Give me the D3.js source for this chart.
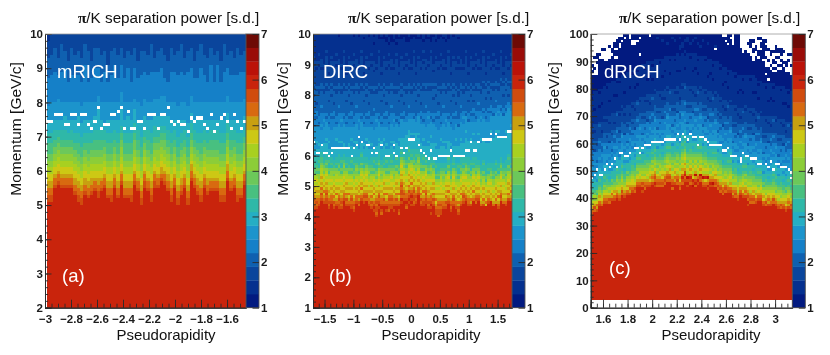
<!DOCTYPE html>
<html><head><meta charset="utf-8">
<script src="https://cdn.jsdelivr.net/npm/d3@7"></script>
<style>
html,body{margin:0;padding:0;background:#fff}
svg{display:block;filter:blur(0.45px)}
text{font-family:"Liberation Sans",Arial,sans-serif}
</style></head><body><div id="chart"></div>
<script>
// Colour bands of the bar, bottom (1.0-1.3) to top (6.7-7.0); a letter in the tables below names a band.
const bandLetters = "ABCDEFGHIJKLMNOPQRST";
const bandColours = ["#021a80","#05308f","#0a459c","#0f60b0","#1580c8","#1c94cc","#25aec4","#2fb8a8","#48c080","#6cc85a","#8ccd38","#a8d020","#cdc814","#c8a010","#d86a10","#d04c0e","#c9240c","#bb1208","#9a0c08","#6e0a05"];
const colourTicks = [1,2,3,4,5,6,7];

// Each string is one pseudorapidity bin, read from the top momentum bin down; letter + run length. Rows past the end are band Q.
const mrichColumns = [
"B2C5D6E8F5G3H3I3J2K2L2M2N2O2P2","C6D6E8F5G4H3I3J2K2L2M2N2O2P2","C4D7E9F5G3H3I2J2K2L2M2N1O2P1","C7D5E7F6G3H2I2J2K2L2M2N1O2P1","C3D8E9F5G3H3I2J2K2L2M2N1O2P1",
"C5D5E10F4G4H3I2J2K2L2M2N1O2P1","C8D6E6F5G4H2I2J2K2L2M2N1O2P1","C4D8E8F5G3H3I2J2K2L2M2N1O2P1","C6D6E8F5G4H3I2J2K2L2M2N2O2P1","C5D7E8F4G5H3I3J2K2L2M2N2O2P2",
"C7D7E7F5G4H3I3J2K2L2M2N2O2P2","C3D6E11F5G4H3I2J2K2L2M2N2O2P1","C5D9E6F5G4H3I3J2K2L2M2N2O2P1","C8D5E7F5G4H3I2J2K2L2M2N2O2P1","C4D6E10F4G4H3I3J2K2L2M2N1O2P1",
"C4D6E8F4G6H3I3J2K2L2M2N2O2P2","C6D8E6F5G3H3I3J2K2L2M2N1O2P1","C5D6E9F6G2H3I2J2K2L2M2N1O2P1","C9D5E6F5G4H3I3J2K2L2M2N2O2P1","C5D7E8F5G4H3I3J2K2L2M2N2O2P2",
"C4D5E11F5G3H3I2J2K2L2M2N1O2P1","C6D7E7F5G4H3I3J2K2L2M2N2O2P1","C4D5E8F5G5H2I2J2K3L2M2N1O2P1","C7D6E7F5G4H3I3J2K2L2M2N2O2P1","C5D5E10F4G5H3I3J2K2L2M2N2O2P1",
"C6D8E6F5G4H3I3J2K2L2M2N2O2P2","C4D6E9F3G4H3I2J3K2L2M2N1O2P1","C8D5E7F5G3H3I3J2K2L2M2N1O2P1","C5D7E9F5G4H3I3J2K2L2M2N2O2P2","C5D6E8F5G3H3I2J2K2L2M2N1O2P2",
"C6D6E8F5G3H3I3J2K2L2M2N1O2P1","C3D8E9F5G4H3I3J2K2L2M2N2O2P2","C7D4E8F5G3H3I2J2K2L2M2N1O2P2","C5D6E8F5G3H3I2J2K3L2M2N1O2P1","C4D6E8F5G4H2I2J2K2L2M2N2O1P1",
"C6D7E5F5G4H2I2J3K2L2M2N1O2P1","C8D6E6F4G4H3I2J2K2L2M2N2O2P1","C4D7E9F5G4H3I3J2K2L2M2N2O2P2","C6D5E9F5G3H3I2J2K2L2M2N1O2P1","C5D7E9F5G4H3I3J2K2L2M2N2O2P2",
"C3D8E9F5G4H3I2J2K2L2M2N2O2P1","C7D5E8F5G3H3I2J2K2L2M2N1O2P1","C5D6E10F5G4H3I3J2K2L2M2N2O2P2","C4D6E8F5G3H3I2J2K2L2M1N2O2P1","C8D5E7F5G3H3I2J2K2L2M2N1O2P1",
"C5D8E7F5G4H3I2J2K2L2M2N2O2P1","C3D7E10F5G4H3I3J2K2L2M2N2O2P2","C6D6E8F5G3H3I2J2K2L2M2N1O2P1","C7D7E6F5G4H3I2J2K2L2M2N2O2P1","C4D5E11F5G3H3I3J2K2L2M2N1O2P1",
"C6D8E6F5G3H3I3J2K2L2M2N1O2P1","C5D4E11F5G3H3I3J2K2L2M2N1O2P1","C8D6E6F5G4H3I3J2K2L2M2N2O2P2","C3D8E9F5G4H3I3J2K2L2M2N2O2P2","C6D4E8F5G3H3I2J2K2L2M1N2O2P1",
"C5D7E8F5G3H3I3J2K2L2M2N1O2P1","C7D5E8F5G3H3I2J2K2L2M2N1O2P1","C4D8E8F5G4H3I3J2K2L2M2N2O2P2","C6D5E9F5G4H3I3J2K2L2M2N2O2P1","C5D6E8F5G4H2I2J2K2L2M2N1O2P1"];
const dircColumns = [
"B8CBC8DCD2CD6EDE3F6GFG3H2IHIJKLMLMNMNOPOP2","B10C2BC6DCD4CD2E2DE3F5GF2G3H3IJIKLMLM2NMNOPOP","B7CB2CBC7DC2D8E2DEF6GFG3HIH2JIKKLMLMNMNOOPQ","B9C3BC5D2CD5ED2E4FEF5G3H2I2JKLLMNMNMONPOP","B11CBC5CDC2D7E2FE2F6G4GH2IJKJLMLMNMOMNOPQ",
"B6CBC10DC2D8EDEF6GFG3H3IJIKLMLMNMNOPOP2","B12C2BC4DCD3CD5E2DEF5GF2G3HIH2JIKLMLM2NMNOPOP","B8CBC8DCD2CD6EDE3EF7G3H2IHJKKLMLMNMNOOPQ","B10C2BC6DCD4CD2E2DE3F7G4GH2IJKJLLMNMNMONPOP","B7CB2CBC7DC2D8E2DEF4GF2G4H2IHJKLLMLMNMOMNOPQ",
"AB8C3BC5D2CD5ED2E4F6GFG3H3IJIKKLMLMNMNOPOP2","B11CBC5CDC2D7E2FE2F5GF2G3HIH2JIKLMLM2NMNOPOP","B6CBC10DC2D8EDEEF7G3GH2IJKJKLMLMNMNOOPQ","B12C2BC4DCD3CD5E2DEF7G4H2IHJKLLMNMNMONPOP","B8CBC8DCD2CD6EDE3F6GFG3H3IJIKLMLMNMOMNOPQ",
"B10C2BC6DCD4CD2E2DE3F4GF2G4HIH2JIKLMLMNMNOPOP2","AB6CB2CBC7DC2D8E2DEF5GF2G3H2IHIJKJLMLM2NMNOPOP","B9C3BC5D2CD5ED2E4F6GFG3GH2IJKJKLMLMNMNOOP","AB10CBC5CDC2D7E2FE2EF7G3H3IJIKLLMNMNMONPO","B6CBC10DC2D8EDEF7G4HIH2JIKLMLMNMOMNOP",
"BAB10C2BC4DCD3CD5E2DEF6GFG3H2IHJKLMLMNMNOPOP","B8CBC8DCD2CD6EDE3F4GF2G4H2IJKLMLM2NMNOPO","AB9C2BC6DCD4CD2E2DE3F5GF2G3GH2IJKJKLMLMNMNOOP","B7CB2CBC7DC2D8E2DEF6GFG3H3IJIKLLMNMNMONPOP","AB2AB6C3BC5D2CD5ED2E4EF7G3HIH2JIKLMLMNMOMNOPQP",
"B11CBC5CDC2D7E2FE2F7G4H2IHIJKJLMLMNMNOPOP2OP","A2B4CBC10DC2D8EDEF6GFG3H3IJIKLMLM2NMNOPOPQP","BAB10C2BC4DCD3CD5E2DEF5GF2G3GH2IJKJKLMLMNMNOOPQPO","A2B6CBC8DCD2CD6EDE3F4GF2G4H2IHJKLLMNMNMONPOPQ","BA2B7C2BC6DCD4CD2E2DE3F6GFG3HIH2JIKLMLMNMOMNOPQP",
"AB2AB3CB2CBC7DC2D8E2DEEF7G3H3IJIKLMLMNMNOPOP2O","A3B6C3BC5D2CD5ED2E4F6GFG3H2IHIJKLMLM2NMNOPOP2","B2AB8CBC5CDC2D7E2FE2F5GF2G3GH2IJKJKLMLMNMNOOPQP","A2BAB3CBC10DC2D8EDEF7G4HIH2JIKLLMNMNMONPOPQ","BAB10C2BC4DCD3CD5E2DEF4GF2G4H3IJIKLMLMNMOMNOPQPO",
"A2B6CBC8DCD2CD6EDF7G3H2IHJKLMLMNMNOPOP2OQP","AB9C2BC6DCD4CD2E2DEF6G4GH2IJKJLMLM2NMNOPOPQ","A3B4CB2CBC7DC2D8E2F5G6H3IJIKKLMLMNMNOOPQPO","BA2B6C3BC5D2CD5ED2E2F4G6HIH2JIKLLMNMNMONPOPQP","A2B9CBC5CDC2D7E2F5GFG4H2IHJKLMLMNMOMNOPQPQP",
"AB5CBC10DC2D8EDF5GFG4H3IJIKLMLMNMNOPOP2OP","A2B10C2BC4DCD3CD5E2F4G6H2IHIJKJLMLM2NMNOPOP","BAB6CBC8DCD2CD6EF6GFG3GH2IJKJKLMLMNMNOOPQ","A2B8C2BC6DCD4CD2E2DE2F7G4H3IJIKLLMNMNMONPOPQ","B2AB3CB2CBC7DC2D8E2DEF5GF2G3HIH2JIKLMLMNMOMNOP2Q",
"A2B7C3BC5D2CD5ED2E4EF7G3H2IHJKLMLMNMNOPOP2","BAB8CBC5CDC2D7E2FE2F6GFG4H3IJIKLMLM2NMNOPOPQ","A3B3CBC10DC2D8EDEF5GF2G4GH2IJKJKLMLMNMNOOPQPQP","AB10C2BC4DCD3CD5E2DEF7G5H2IHJKLLMNMNMONPOPQ","B2AB5CBC8DCD2CD6EDE3F6GFG5HIH2JIKLMLMNMOMNOP2",
"A2B8C2BC6DCD4CD2E2DE3EF7G5H3IJIKLMLMNMNOPOP2OQ","AB6CB2CBC7DC2D8E2DEF4GF2G6H2IJKLLMLM2NMNOPOP2","BAB7C3BC5D2CD5ED2E4F6GFG5GH2IJKJKLMLMNMNOOPQ","B2AB8CBC5CDC2D7E2FE2F5GF2G5H2IHKLLMNMNMONPOPQ","A2B4CBC10DC2D8EDEF7G5HIH2JIKLMLMNMOMNOPQ",
"B12C2BC4DCD3CD5E2DEF6GFG5H3IJIKLMLMNMNOPOP","AB7CBC8DCD2CD6EDE3EF6G4H2IHJKLMLM2NMNOPOPQ","B10C2BC6DCD4CD2E2DE2F5GF2G5GH2IJKJKLMLMNMNOOP","BAB6CB2CBC7DC2D8E2DF7G6HIH2JIKLLMNMNMONPOP","B9C3BC5D2CD5ED2E3F6GFG5H3IJIKLMLMNMOMNOP",
"B11CBC5CDC2D6E2FEEF7G5H2IHJKLMLMNMNOPOP","B6CBC10DC2D7EDF5GF2G6GH2IJKJLMLM2NMNOP","B12C2BC4DCD3CD4E2DF7G6H3IJIKKLMLMNMNOOP","B8CBC8DCD2CD5EDE2F6GFG6HIH2JIKLLMNMNMONP","B10C2BC6DCD3CD2E2DE2F4GF2G6H2IHJKLMLMNMOMNO",
"B7CB2CBC6DC2D7E2DEF7G6H3IJIKLMLMNMNOPO","B9C3BC5D2CD4ED2E3F5GF2G7H2IJKLMLM2NMNOP","B11CBC5CDC2D6E2FEF6GFG7GH2IJKJKLMLMNMNO","B6CBC9DC2D7EDE2F7G8HIH2JIKLLMNMNMONP","B12C2BC3DCD3CD4E2DEF6GFG8H3IJIKLMLMNMOM",
"B8CBC7DCD2CD5EDE2EF8G7H2IHJKLMLMNMNOP","B10C2BC5DCD3CD2E2DEF5GF2G8GH2IJKJLMLM2NMN","B7CB2CBC6DC2D6E2DF8G9H3IJIKKLMLMNMNO","B9C3BC4D2CD4ED2E2F6GFG9HIH2JIKLLMNMNMON","B11CBC4CDC2D5E2FEF5GF2G9H2IHJKLMLMNMOMNOP",
"B6CBC8DC2D7EDEF8G8H2IJIKLMLMNMNOPO","B12C2BC2DCD3CD4E2DF7G9GH2IJKJLMLM2NMNO","B8CBC6DCD2CD5EDEF6GFG9H3IJIKKLMLMNMNOP","B10C2BC4DCD3CD2E2F8G9HIH2JIKLLMNMNMONP","B7CB2CBC5DC2D6E2F5GF2G9H2IHJKLMLMNMOMNO"];
const drichColumns = [
"A22BAB10CBC4DCD2EDE2F2EFG3H2IIJKLMNOP","A21B6AB5C2BC3D3CE4FEF2GFGHGHIJLKMNPO","A21B12C6DCD2E3DFEF2G2FH3JIKLMONP","A20BAB4AB5CDC4DED2E3FEF2G3HIHIJKLNMOP","A20B5AB6C3BC2D2ED2EFE2F3GFGH3IJKLMNO",
"A19B11CBC4D4EFE2F4GHGHIHIKJLMNOP","A18BAB10CBC4DCD2EDE2F2EFG3H2IIJKLMNOP","A18B6AB5C2BC3D3CE4FEF2GFGHGHIJLKMNPO","A17B12C6DCD2E3DFEF2G2FH3JIKLMONP","A17B5AB6C3BC2D2ED2EFE2F3GFGH3IJKLNMOP",
"A16BAB4AB5CDC4DED2E3FEF2G3HIHIJKJLMNOP","A16BAB10CBC4DCD2EDE2F2EFG3H2IIJKLMLNOP","A15B11CBC4D4EFE2F4GHGHIHIJKLKMNPO","A15B6AB5C2BC3D3CE4FEF2GFGHGHIIJKLMNOP","A14B12C6DCD2E3DFEF2G2FH3JIKLMNMOP",
"A14B5AB6C3BC2D2ED2EFE2F3GFGH3IJKLMNONP","A13BAB10CBC4DCD2EDE2F2EFG3H2IIJKLMMNOP","A13B6AB5C2BC3D3CE4FEF2GFGHGHIJJKLMNPO","A12BAB4AB5CDC4DED2E3FEF2G3HIHIJKJLMNOP","A12B11CBC4D4EFE2F4GHGHIHIJKLMLNOP",
"A11B12C6DCD2E3DFEF2G2FH3IJKLKMNPOQP","A11BAB10CBC4DCD2EDE2F2EFG3H2IIJKLKMNOPO","A10B6AB5C2BC3D3CE4FEF2GFGHGHIJJKLMLNOP","A10B5AB6C3BC2D2ED2EFE2F3GFGH3IJKLMLNMOP","A10BAB4AB5CDC4DED2E3FEF2G3HIHIKJLKMNONP",
"A9B11CBC4D4EFE2F4GHGHIHIJKLKMNOPOQP","ABA7B12C6DCD2E3DFEF2G2FH3IJKJLKMNOPO","A9BAB10CBC4DCD2EDE2F2EFG3H2IIJKLKMLNOPO","A2BA6B6AB5C2BC3D3CE4FEF2GFGHGHIJJKLMNMOPO","A8B5AB6C3BC2D2ED2EFE2F3GFGH3IJKJLKMNOPO",
"A3BA4B11CBC4D4EFE2F4GHGHIHIJKLKMLNOPO","A8BAB4AB5CDC4DED2E3FEF2G3HIHIJJKLMNMOPO","ABA6B12C6DCD2E3DFEF2G2FH3IJKJLKMLNOPQO","A2BA5BAB10CBC4DCD2EDE2F2EFG3H2IIJKLKMNMONPQ","A7B6AB5C2BC3D3CE4FEF2GFGHGHIJKJLKMLNOPOQ",
"ABA2B2A2B5AB6C3BC2D2ED2EFE2F3GFGH3IJKJLKMLNMOPO","A3B2A2B11CBC4D4EFE2F4GHGHIHIJKLKMLNMOQPO","A2BA3BAB4AB5CDC4DED2E3FEF2G3HIHIJKLMLNMNPQOP","AB2A4B12C6DCD2E3DFEF2G2FH3IJKJLKMLNRPQP","A3BA3BAB10CBC4DCD2EDE2F2EFG3H2IIJKLKMNMOQPO",
"A2BA4B6AB5C2BC3D3CE4FEF2GFGHGHIJKJLKMLNMQPR","ABA5B5AB6C3BC2D2ED2EFE2F3GFGH3IJKLKMLNRNPQO","A3BA4BAB4AB5CDC4DED2E3FEF2G3HIHIJKJLKMLNOQPQ","A4BA3B11CBC4D4EFE2F4GHGHIHIJKLKMNMRPOQ","A2BA5B12C6DCD2E3DFEF2G2FH3IJKJLMLNRNOPQ",
"A8BAB10CBC4DCD2EDE2F2EFG3H2IIJKLKMLNQMOPQ","A3BA5B6AB5C2BC3D3CE4FEF2GFGHGHIJKLMLNRNOQP","A9B5AB6C3BC2D2ED2EFE2F3GFGH3IJKJLKMNOQPQ","A10BAB4AB5CDC4DED2E3FEF2G3HIHIJKLKMLNORP","A4BA5B11CBC4D4EFE2F4GHGHIHIJJKLMNMOPO",
"A10B12C6DCD2E3DFEF2G2FH3IJKJLKMNOPO","A11BAB10CBC4DCD2EDE2F2EFG3H2IIJKLKMLNOPO","A12B6AB5C2BC3D3CE4FEF2GFGHGHIJJKLMNMOPO","A12B5AB6C3BC2D2ED2EFE2F3GFGH3IJKLKMNOPO","A13BAB4AB5CDC4DED2E3FEF2G3HIHIJJKLMLNOP",
"A13B11CBC4D4EFE2F4GHGHIHIJKLMLNMOP","A14B12C6DCD2E3DFEF2G2FH3IKJLKMNONP","A14BAB10CBC4DCD2EDE2F2EFG3H2IIJKLKMNOPO","A15B6AB5C2BC3D3CE4FEF2GFGHGHIJJKLMLNOP","A15B5AB6C3BC2D2ED2EFE2F3GFGH3IJKLMNOPQ",
"A15BAB4AB5CDC4DED2E3FEF2G3HIHIJKLMLNMOP","A15B11CBC4D4EFE2F4GHGHIHIKJLKMNONP","A15B12C6DCD2E3DFEF2G2FH3IJKLKMNOPOQP","A15BAB10CBC4DCD2EDE2F2EFG3H2IIJKLKMLNOPO","A15B6AB5C2BC3D3CE4FEF2GFGHGHIJJKLMNMOPO",
"A16B5AB6C3BC2D2ED2EFE2F3GFGH3IJKLMLNMOP","A17BAB4AB5CDC4DED2E3FEF2G3HIHIJKJLMNOP","A17B11CBC4D4EFE2F4GHGHIHIJKLMLNOP","A18B12C6DCD2E3DFEF2G2FH3JIKLMNMOP","A18BAB10CBC4DCD2EDE2F2EFG3H2IIJKLKMNPO",
"A18B6AB5C2BC3D3CE4FEF2GFGHGHIJKLMNONP","A18B5AB6C3BC2D2ED2EFE2F3GFGH3IJKLMMNOP","A18BAB4AB5CDC4DED2E3FEF2G3HIHIJJKLMNPO","A19B11CBC4D4EFE2F4GHGHIHIJKJLMNOP","A19B12C6DCD2E3DFEF2G2FH3IJKLMLNOP",
"A19BAB10CBC4DCD2EDE2F2EFG3H2IIJKLKMNPO","A19B6AB5C2BC3D3CE4FEF2GFGHGHIIJKLMNOP","A20B5AB6C3BC2D2ED2EFE2F3GFGH3JIKLMNMOP","A20BAB4AB5CDC4DED2E3FEF2G3HIHIJKLMNONP","A21B11CBC4D4EFE2F4GHGHIHIJLKMNPO"];

// Empty (white) bins: [column, row] for the ring of gaps, [row, first column, last column] for the corner patches.
const mrichEmptyRows = [25,25,23,23,23,26,26,23,23,26,23,23,26,27,25,21,27,26,26,23,23,22,21,27,22,27,27,25,25,27,23,23,23,27,23,23,21,25,26,25,26,26,28,24,25,24,24,26,27,23,28,26,24,23,25,27,23,25,27,25];
const dircEmpty = [[0,39],[1,43],[2,43],[3,40],[4,43],[5,43],[6,44],[7,43],[7,41],[8,41],[9,41],[10,41],[11,41],[12,41],[13,41],[14,41],[15,44],[16,41],[17,40],[18,37],[19,39],[21,40],[22,40],[23,43],[24,41],[25,43],[27,40],[29,44],[30,44],[32,43],[32,40],[33,44],[35,41],[36,43],[37,41],[38,38],[39,38],[40,38],[42,40],[43,42],[44,43],[45,44],[46,45],[47,42],[48,45],[49,45],[50,44],[51,44],[52,44],[53,44],[54,44],[55,42],[56,44],[57,44],[58,44],[59,44],[60,44],[61,42],[62,42],[63,39],[64,42],[65,42],[66,39],[68,38],[69,38],[70,38],[71,38],[71,36],[73,36],[74,37],[75,37],[76,37],[77,37],[78,35],[79,35]];
const drichEmpty = [[0,52],[1,51],[2,49],[3,51],[4,51],[5,49],[6,47],[7,48],[8,47],[9,45],[10,48],[11,43],[12,43],[13,44],[14,44],[15,43],[17,41],[18,41],[19,43],[20,41],[21,40],[22,40],[23,40],[24,39],[25,39],[26,39],[27,39],[28,39],[29,38],[30,38],[31,38],[32,38],[33,38],[34,36],[35,38],[36,36],[37,37],[38,38],[39,36],[40,37],[41,37],[42,40],[43,37],[44,37],[45,38],[46,39],[47,40],[48,40],[49,40],[50,40],[51,40],[52,42],[53,42],[54,41],[55,44],[56,44],[57,44],[59,45],[59,46],[60,43],[61,44],[62,44],[63,45],[64,45],[65,45],[66,47],[67,47],[69,47],[70,48],[71,46],[72,49],[73,47],[74,47],[75,48],[76,48],[77,48],[78,49],[79,50],[79,52],[19,7],[49,5],[69,14],[70,16]];
const drichEmptyRuns = [[0,0,11],[0,12,12],[0,15,15],[0,23,23],[0,52,53],[0,56,56],[0,59,79],[1,0,10],[1,13,13],[1,15,15],[1,19,19],[1,55,56],[1,59,65],[1,68,79],[2,0,9],[2,12,12],[2,16,18],[2,53,53],[2,56,56],[2,59,62],[2,65,67],[2,70,79],[3,0,8],[3,11,11],[3,16,17],[3,54,54],[3,56,56],[3,59,61],[3,64,66],[3,69,79],[4,0,6],[4,8,8],[4,11,11],[4,59,62],[4,64,64],[4,66,66],[4,70,72],[4,74,79],[5,0,3],[5,6,7],[5,9,10],[5,60,63],[5,66,67],[5,71,72],[5,76,79],[6,0,4],[6,5,7],[6,60,60],[6,62,63],[6,65,65],[6,69,70],[6,77,79],[7,0,1],[7,4,8],[7,63,65],[7,69,70],[7,72,74],[7,76,77],[8,0,0],[8,3,7],[8,9,10],[8,64,64],[8,66,66],[8,70,72],[8,75,79],[9,0,2],[9,5,6],[9,64,64],[9,68,69],[9,71,71],[9,73,74],[9,76,77],[9,79,79],[10,0,1],[10,69,71],[10,74,75],[10,78,79],[11,1,2],[11,69,70],[11,72,73],[11,76,76],[11,78,78],[12,0,0],[12,2,2],[12,71,71],[12,74,75],[12,77,79],[13,1,2],[13,72,73],[13,77,79],[14,0,2],[14,79,79],[97,0,79],[98,0,79],[99,0,79]];

const mrichEtaTicks = [-3,-2.8,-2.6,-2.4,-2.2,-2,-1.8,-1.6];
const dircEtaTicks = [-1.5,-1,-0.5,0,0.5,1,1.5];
const drichEtaTicks = [1.6,1.8,2,2.2,2.4,2.6,2.8,3];
const mrichPTicks = [2,3,4,5,6,7,8,9,10];
const dircPTicks = [1,2,3,4,5,6,7,8,9,10];
const drichPTicks = [0,10,20,30,40,50,60,70,80,90,100];

const W = 830, H = 355, plotTop = 34, plotBottom = 307.7;
const svg = d3.select("#chart").append("svg").attr("width",W).attr("height",H);
const colour = d3.scaleQuantize().domain([1,7]).range(bandColours);
const valueOf = i => 1 + 0.3*(i+0.5);

function decode(s){
  const out=[];
  for(const m of s.matchAll(/([A-T])(\d*)/g)){
    const n = m[2] ? +m[2] : 1;
    for(let i=0;i<n;i++) out.push(bandLetters.indexOf(m[1]));
  }
  return out;
}

function panel(cfg){
  const g = svg.append("g");
  const x = d3.scaleLinear().domain(cfg.etaDomain).range(cfg.xRange);
  const y = d3.scaleLinear().domain(cfg.pDomain).range([plotBottom,plotTop]);
  const nCols = cfg.columns.length, nRows = cfg.nRows;
  const col = d3.scaleLinear().domain([0,nCols]).range([x(cfg.binStart),cfg.xRange[1]]);
  const row = d3.scaleLinear().domain([0,nRows]).range([y(cfg.pDomain[1]),y(cfg.pDomain[0])]);
  const empty = new Set(cfg.empty.map(d=>d[0]+":"+d[1]));
  const cells=[];
  cfg.columns.forEach((s,c)=>{
    const bands=decode(s);
    for(let r=0;r<nRows;r++){
      if(empty.has(c+":"+r)) continue;
      cells.push({c,r,v:valueOf(r<bands.length?bands[r]:16)});
    }
  });
  g.append("g").attr("shape-rendering","crispEdges").selectAll("rect").data(cells).join("rect")
    .attr("x",d=>col(d.c)).attr("y",d=>row(d.r))
    .attr("width",col(1)-col(0)+0.3).attr("height",row(1)-row(0)+0.3)
    .attr("fill",d=>colour(d.v));

  const ink="#2a2a2a";
  const style=a=>{a.selectAll("path").attr("stroke",ink).attr("stroke-width",1);
    a.selectAll("line").attr("stroke",ink).attr("stroke-width",0.9);
    a.selectAll("text").attr("fill","#1c1c1c").attr("font-size",11.5).attr("font-weight","bold")
      .attr("font-family","'Liberation Sans',Arial,sans-serif");};
  const bottom="translate(0,"+plotBottom+")", left="translate("+cfg.xRange[0]+",0)";
  const fmt=d3.format("~g");
  g.append("g").attr("transform",bottom).call(d3.axisBottom(x).tickValues(cfg.etaMinor).tickSize(-4).tickFormat("")).call(style);
  g.append("g").attr("transform",bottom).call(d3.axisBottom(x).tickValues(cfg.etaTicks).tickSize(-8).tickPadding(7).tickFormat(fmt)).call(style);
  g.append("g").attr("transform",left).call(d3.axisLeft(y).tickValues(cfg.pMinor).tickSize(-3).tickFormat("")).call(style);
  g.append("g").attr("transform",left).call(d3.axisLeft(y).tickValues(cfg.pTicks).tickSize(-6.5).tickPadding(2).tickFormat(fmt)).call(style);
  g.append("line").attr("x1",cfg.xRange[0]).attr("x2",cfg.xRange[1]).attr("y1",plotTop).attr("y2",plotTop).attr("stroke","#9a9a9a").attr("stroke-width",0.8);

  // colour bar
  const barX=cfg.xRange[1], barW=13;
  const cy=d3.scaleLinear().domain([1,7]).range([plotBottom,plotTop]);
  const cb=g.append("g");
  const edges=d3.range(bandColours.length).map(i=>({i,lo:1+0.3*i,hi:1+0.3*(i+1)}));
  cb.selectAll("rect").data(edges).join("rect").attr("x",barX).attr("width",barW)
    .attr("y",d=>cy(d.hi)).attr("height",d=>cy(d.lo)-cy(d.hi)+0.3).attr("fill",d=>bandColours[d.i]);
  cb.append("rect").attr("x",barX).attr("y",plotTop).attr("width",barW).attr("height",plotBottom-plotTop)
    .attr("fill","none").attr("stroke","#555").attr("stroke-width",0.9);
  g.append("g").attr("transform","translate("+(barX+barW)+",0)")
    .call(d3.axisRight(cy).tickValues(colourTicks).tickSize(-6.5).tickPadding(2).tickFormat(fmt))
    .call(style).call(a=>a.select("path").remove());

  // labels
  const title=g.append("text").attr("x",cfg.titleX).attr("y",23).attr("font-size",15.25).attr("fill","#111");
  title.append("tspan").attr("font-weight","bold").attr("font-family","'Liberation Serif',serif").text("π");
  title.append("tspan").text("/K separation power [s.d.]");
  g.append("text").attr("x",cfg.xLabelX).attr("y",340).attr("font-size",15).attr("text-anchor","middle").attr("fill","#111").text("Pseudorapidity");
  g.append("text").attr("transform","translate("+cfg.yLabelX+",129) rotate(-90)").attr("font-size",15.5).attr("text-anchor","middle").attr("fill","#111").text("Momentum [GeV/c]");
  g.append("text").attr("x",cfg.nameX).attr("y",78).attr("font-size",18.5).attr("fill","#fff").text(cfg.name);
  g.append("text").attr("x",cfg.tagX).attr("y",cfg.tagY).attr("font-size",18.5).attr("fill","#fff").text(cfg.tag);
}

panel({name:"mRICH",tag:"(a)",nameX:57,tagX:62,tagY:282,titleX:78,xLabelX:166,yLabelX:21,
  etaDomain:[-3,-1.454],binStart:-2.987,xRange:[45,246],pDomain:[2,10],nRows:80,
  columns:mrichColumns,empty:mrichEmptyRows.map((r,c)=>[c,r]),
  etaTicks:mrichEtaTicks,etaMinor:d3.range(-3,-1.46,0.05),pTicks:mrichPTicks,pMinor:d3.range(2,10.01,0.2)});
panel({name:"DIRC",tag:"(b)",nameX:323,tagX:329,tagY:282,titleX:348,xLabelX:431,yLabelX:288,
  etaDomain:[-1.7,1.75],binStart:-1.7,xRange:[313,512],pDomain:[1,10],nRows:100,
  columns:dircColumns,empty:dircEmpty,
  etaTicks:dircEtaTicks,etaMinor:d3.range(-1.7,1.75,0.1),pTicks:dircPTicks,pMinor:d3.range(1,10.01,0.2)});
panel({name:"dRICH",tag:"(c)",nameX:604,tagX:609,tagY:274,titleX:619,xLabelX:711,yLabelX:559,
  etaDomain:[1.5,3.14],binStart:1.5,xRange:[590.7,792.3],pDomain:[0,100],nRows:100,
  columns:drichColumns,
  empty:drichEmpty.concat(drichEmptyRuns.flatMap(([r,a,b])=>d3.range(a,b+1).map(c=>[c,r]))),
  etaTicks:drichEtaTicks,etaMinor:d3.range(1.5,3.14,0.05),pTicks:drichPTicks,pMinor:d3.range(0,100.01,2)});
</script></body></html>
